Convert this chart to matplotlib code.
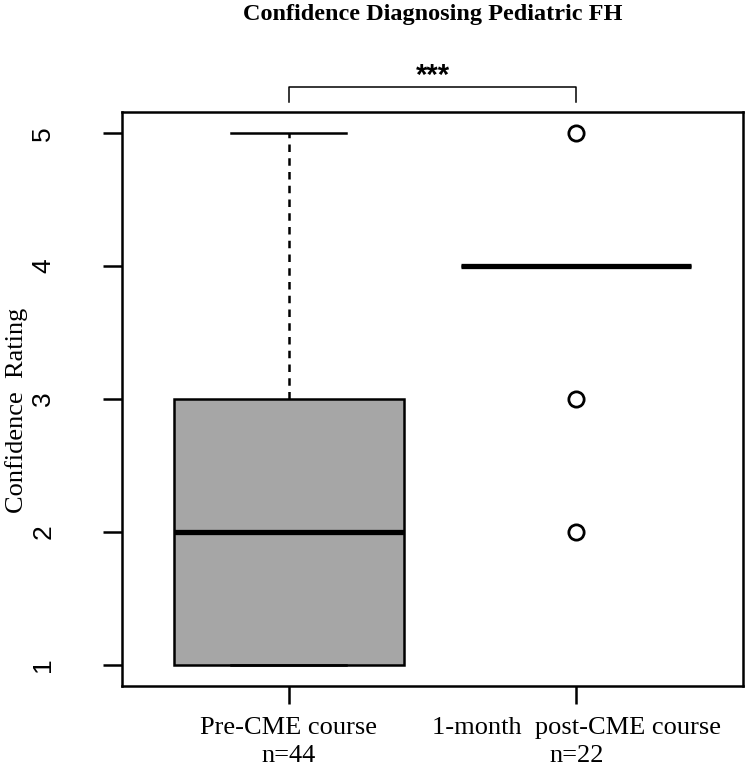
import matplotlib
matplotlib.use("Agg")
import matplotlib.pyplot as plt

# ---- data ----
groups = ["Pre-CME course", "1-month  post-CME course"]
group_n = [44, 22]
q1 = [1, 4]
median = [2, 4]
q3 = [3, 4]
whisker_low = [1, 4]
whisker_high = [5, 4]
outliers = [[], [5, 3, 2]]
title = "Confidence Diagnosing Pediatric FH"
ylabel = "Confidence  Rating"
significance = "***"
yticks = [1, 2, 3, 4, 5]

stats = []
for i in range(len(groups)):
    stats.append(dict(q1=q1[i], med=median[i], q3=q3[i],
                      whislo=whisker_low[i], whishi=whisker_high[i],
                      fliers=outliers[i], label=f"{groups[i]}\nn={group_n[i]}"))

fig = plt.figure(figsize=(7.5, 7.68), dpi=100)
ax = fig.add_axes([122/750, 1-686/768, (743-122)/750, (686-112)/768])

ax.bxp(stats, positions=[1, 2], widths=0.8, patch_artist=True,
       boxprops=dict(facecolor="#A6A6A6", edgecolor="black", linewidth=1.8),
       medianprops=dict(color="black", linewidth=3.8, solid_capstyle="butt"),
       whiskerprops=dict(color="black", linewidth=1.8, linestyle=(0, (3, 2.5))),
       capprops=dict(color="black", linewidth=1.8),
       capwidths=0.4,
       flierprops=dict(marker="o", markersize=11, markerfacecolor="none",
                       markeredgecolor="black", markeredgewidth=2.0))

ax.set_xlim(0.42, 2.58)
ax.set_ylim(0.84, 5.16)
for s in ax.spines.values():
    s.set_linewidth(1.8)

ax.set_yticks(yticks)
ax.set_yticklabels([str(v) for v in yticks])
ax.tick_params(axis="y", length=14, width=1.8, pad=34, labelsize=19,
               labelrotation=90)
ax.tick_params(axis="x", length=13, width=1.8, pad=9)
for lab in ax.get_yticklabels():
    lab.set_fontfamily("Liberation Sans")
    lab.set_fontsize(19)
    lab.set_verticalalignment("center")
for lab in ax.get_xticklabels():
    lab.set_fontfamily("Liberation Serif")
    lab.set_fontsize(19)
    lab.set_linespacing(1.4)

# significance bracket
ax.plot([1, 1, 2, 2], [5.234, 5.347, 5.347, 5.234], color="black",
        linewidth=1.1, clip_on=False)
ax.text(1.5, 5.43, significance, ha="center", va="center",
        fontfamily="Liberation Sans", fontweight="bold", fontsize=21,
        transform=ax.transData, clip_on=False)

fig.text((122+743)/2/750, 1-20/768, title, ha="center", va="baseline",
         fontfamily="Liberation Serif", fontweight="bold", fontsize=17.5)
fig.text(17/750, 1-410/768, ylabel, rotation=90, ha="center", va="center",
         fontfamily="Liberation Serif", fontsize=19)

fig.savefig("out.png", dpi=100)
